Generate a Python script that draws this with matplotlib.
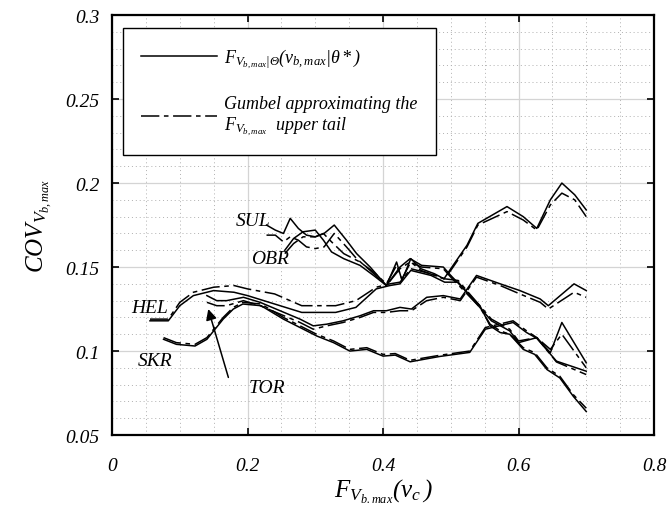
import matplotlib
matplotlib.use("Agg")
import matplotlib.pyplot as plt
from matplotlib.ticker import MultipleLocator

plt.rcParams["font.family"] = ["Liberation Serif", "DejaVu Serif"]
plt.rcParams["font.style"] = "italic"
plt.rcParams["mathtext.fontset"] = "custom"
plt.rcParams["mathtext.rm"] = "Liberation Serif"
plt.rcParams["mathtext.it"] = "Liberation Serif:italic"

# ---- data (x = F(v_c), y = COV) ----
hel_x = [0.056, 0.083, 0.10, 0.12, 0.15, 0.18, 0.20, 0.24, 0.28, 0.33, 0.36, 0.39, 0.41,
         0.425, 0.441, 0.471, 0.491, 0.511, 0.53, 0.56, 0.587, 0.60, 0.627, 0.647, 0.664, 0.70]
hel_cov = [0.118, 0.118, 0.127, 0.133, 0.136, 0.135, 0.133, 0.128, 0.123, 0.123, 0.126, 0.137, 0.139,
           0.140, 0.148, 0.145, 0.141, 0.141, 0.132, 0.118, 0.112, 0.105, 0.108, 0.099, 0.117, 0.093]
hel_gum = [0.119, 0.119, 0.129, 0.135, 0.138, 0.139, 0.137, 0.134, 0.127, 0.127, 0.130, 0.138, 0.140,
           0.141, 0.149, 0.146, 0.143, 0.142, 0.133, 0.119, 0.113, 0.106, 0.108, 0.101, 0.110, 0.090]

sul_x = [0.228, 0.241, 0.253, 0.263, 0.275, 0.287, 0.300, 0.313, 0.328, 0.346, 0.361, 0.381, 0.405,
         0.425, 0.44, 0.457, 0.489, 0.50, 0.524, 0.543, 0.558, 0.573, 0.587, 0.607, 0.624, 0.642,
         0.661, 0.681, 0.70]
sul_cov = [0.175, 0.172, 0.170, 0.179, 0.173, 0.169, 0.168, 0.170, 0.175, 0.166, 0.158, 0.150, 0.139,
           0.150, 0.155, 0.151, 0.150, 0.145, 0.135, 0.127, 0.115, 0.111, 0.110, 0.101, 0.098, 0.089,
           0.084, 0.073, 0.064]
sul_gum = [0.169, 0.169, 0.165, 0.168, 0.166, 0.162, 0.161, 0.162, 0.170, 0.162, 0.155, 0.148, 0.139,
           0.149, 0.153, 0.150, 0.149, 0.144, 0.134, 0.126, 0.116, 0.112, 0.110, 0.102, 0.099, 0.090,
           0.085, 0.074, 0.066]

obr_x = [0.255, 0.268, 0.282, 0.300, 0.312, 0.324, 0.342, 0.366, 0.386, 0.405,
         0.42, 0.428, 0.441, 0.456, 0.476, 0.49, 0.50, 0.524, 0.54, 0.583, 0.607, 0.627,
         0.647, 0.664, 0.683, 0.70]
obr_cov = [0.160, 0.167, 0.171, 0.172, 0.166, 0.159, 0.155, 0.151, 0.145, 0.139,
           0.153, 0.142, 0.155, 0.149, 0.146, 0.143, 0.149, 0.163, 0.176, 0.186, 0.180, 0.173,
           0.190, 0.200, 0.193, 0.184]
obr_gum = [0.158, 0.164, 0.168, 0.168, 0.170, 0.165, 0.158, 0.153, 0.147, 0.140,
           0.151, 0.143, 0.153, 0.148, 0.145, 0.143, 0.148, 0.162, 0.175, 0.183, 0.178, 0.172,
           0.187, 0.194, 0.190, 0.180]

skr_x = [0.076, 0.095, 0.1225, 0.14, 0.164, 0.179, 0.193, 0.22, 0.253, 0.302, 0.327, 0.351, 0.376,
         0.40, 0.418, 0.44, 0.484, 0.528, 0.551, 0.592, 0.612, 0.627, 0.656, 0.70]
skr_cov = [0.107, 0.104, 0.103, 0.107, 0.119, 0.125, 0.128, 0.127, 0.119, 0.109, 0.105, 0.100, 0.101,
           0.097, 0.0976, 0.0936, 0.0968, 0.0992, 0.113, 0.117, 0.111, 0.1076, 0.094, 0.088]
skr_gum = [0.108, 0.105, 0.104, 0.108, 0.120, 0.126, 0.129, 0.128, 0.120, 0.110, 0.106, 0.101, 0.102,
           0.098, 0.0985, 0.0945, 0.0975, 0.100, 0.114, 0.118, 0.112, 0.108, 0.0935, 0.086]

tor_x = [0.140, 0.1545, 0.169, 0.194, 0.2185, 0.248, 0.2775, 0.297, 0.317, 0.341, 0.366, 0.386,
         0.405, 0.425, 0.442, 0.4645, 0.489, 0.514, 0.538, 0.573, 0.602, 0.632, 0.644, 0.682, 0.70]
tor_cov = [0.133, 0.130, 0.130, 0.132, 0.129, 0.124, 0.119, 0.115, 0.116, 0.118, 0.121, 0.124,
           0.124, 0.126, 0.125, 0.132, 0.133, 0.131, 0.145, 0.140, 0.136, 0.131, 0.127, 0.140, 0.136]
tor_gum = [0.129, 0.127, 0.127, 0.130, 0.127, 0.122, 0.117, 0.113, 0.115, 0.117, 0.120, 0.123,
           0.123, 0.124, 0.124, 0.130, 0.132, 0.130, 0.144, 0.139, 0.134, 0.129, 0.125, 0.135, 0.132]

sites = ["HEL", "SUL", "OBR", "SKR", "TOR"]
site_label_pos = [(0.056, 0.126), (0.209, 0.1776), (0.233, 0.1548), (0.064, 0.0942), (0.228, 0.0784)]
tor_arrow_tail = (0.1717, 0.0843)
tor_arrow_tip = (0.142, 0.125)

x_ticks = [0, 0.2, 0.4, 0.6, 0.8]
x_ticklabels = ["0", "0.2", "0.4", "0.6", "0.8"]
y_ticks = [0.05, 0.1, 0.15, 0.2, 0.25, 0.3]
y_ticklabels = ["0.05", "0.1", "0.15", "0.2", "0.25", "0.3"]

fig = plt.figure(figsize=(6.67, 5.10), dpi=100)
ax = fig.add_axes([0.168, 0.145, 0.8125, 0.8235])

dashdot = (0, (12, 3, 3, 3))
curves = [(hel_x, hel_cov, hel_gum), (sul_x, sul_cov, sul_gum), (obr_x, obr_cov, obr_gum),
          (skr_x, skr_cov, skr_gum), (tor_x, tor_cov, tor_gum)]
for i, (x, yc, yg) in enumerate(curves):
    ax.plot(x, yc, color="black", lw=1.1,
            label=r"$F_{V_{b,max}|\Theta}(v_{b,max}|\theta*)$" if i == 0 else None)
    ax.plot(x, yg, color="black", lw=1.1, linestyle=dashdot,
            label="Gumbel approximating the\n" + r"$F_{V_{b,max}}$" + "  upper tail" if i == 0 else None)

for name, (tx, ty) in zip(sites, site_label_pos):
    ax.text(tx, ty, name, fontsize=14, ha="center", va="center")
ax.annotate("", xy=tor_arrow_tip, xytext=tor_arrow_tail,
            arrowprops=dict(arrowstyle="-|>", color="black", lw=1.1,
                            mutation_scale=16, shrinkA=0, shrinkB=0))

ax.set_xlim(0, 0.8)
ax.set_ylim(0.05, 0.3)
ax.set_xticks(x_ticks)
ax.set_xticklabels(x_ticklabels)
ax.set_yticks(y_ticks)
ax.set_yticklabels(y_ticklabels)
ax.xaxis.set_minor_locator(MultipleLocator(0.05))
ax.yaxis.set_minor_locator(MultipleLocator(0.01))
ax.grid(which="major", color="#d4d4d4", lw=0.9, ls="-")
ax.grid(which="minor", color="#b0b0b0", lw=0.7, ls=(0, (1, 3)))
ax.set_axisbelow(True)
ax.tick_params(which="major", direction="in", length=5, width=1.2, top=True, right=True,
               labelsize=14)
ax.tick_params(axis="x", which="major", pad=16)
ax.tick_params(axis="y", which="major", pad=9)
ax.tick_params(which="minor", length=0)
for s in ax.spines.values():
    s.set_linewidth(1.6)

ax.set_xlabel(r"$F_{V_{b.max}}(v_c\,)$", fontsize=18, labelpad=2)
ax.set_ylabel(r"$COV_{V_{b,max}}$", fontsize=18, labelpad=8)

leg = ax.legend(loc="upper left", bbox_to_anchor=(0.0203, 0.969), borderaxespad=0,
                fontsize=13, handlelength=4.2, handletextpad=0.4, labelspacing=1.4,
                fancybox=False, framealpha=1, edgecolor="black", borderpad=1.0)
leg.get_frame().set_linewidth(1.0)

fig.savefig("out.png", dpi=100)
